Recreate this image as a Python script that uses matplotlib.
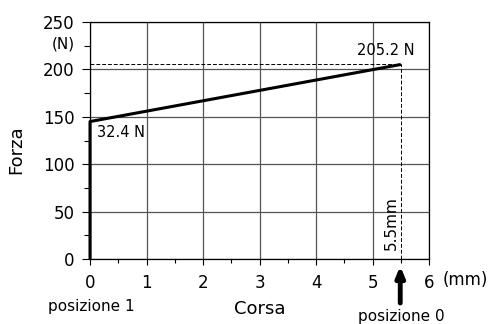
import matplotlib
matplotlib.use('Agg')
import matplotlib.pyplot as plt
from matplotlib.ticker import MultipleLocator

## force vs stroke data
corsa = [0, 0, 5.5]
forza = [0, 145, 205.2]
x_ticks = [0, 1, 2, 3, 4, 5, 6]
y_ticks = [0, 50, 100, 150, 200, 250]

plt.rcParams['font.family'] = ['DejaVu Sans']

fig = plt.figure(figsize=(4.93, 3.24), dpi=100)
ax = fig.add_axes([0.1826, 0.2006, 0.6877, 0.7315])

ax.set_xlim(0, 6)
ax.set_ylim(0, 250)
ax.set_xticks(x_ticks)
ax.set_yticks(y_ticks)
ax.xaxis.set_minor_locator(MultipleLocator(0.5))
ax.yaxis.set_minor_locator(MultipleLocator(25))
ax.tick_params(which='both', direction='out', width=0.8, labelsize=12, color='black')
ax.tick_params(axis='x', which='major', length=4, pad=7)
ax.tick_params(axis='x', which='minor', length=3)
ax.tick_params(axis='y', which='major', length=6, pad=5)
ax.tick_params(axis='y', which='minor', length=4)
ax.grid(True, which='major', color='#555555', linewidth=0.9)
for s in ax.spines.values():
    s.set_linewidth(0.9)

# dashed guides to the end point
ax.plot([0, 5.5], [205.2, 205.2], color='black', linestyle='--', linewidth=0.7, dashes=(4, 2))
ax.plot([5.5, 5.5], [0, 205.2], color='black', linestyle='--', linewidth=0.7, dashes=(4, 2))

ax.plot(corsa, forza, color='black', linewidth=2.2, solid_capstyle='butt', clip_on=False, zorder=5)

ax.text(0.12, 133, '32.4 N', fontsize=10.5, va='center', ha='left')
ax.text(5.23, 219.5, '205.2 N', fontsize=10.5, va='center', ha='center')
ax.text(5.33, 38, '5.5mm', fontsize=11, rotation=90, va='center', ha='center')

ax.text(-0.265, 227, '(N)', fontsize=11, ha='right', va='center')
fig.text(443 / 493, 1 - 280 / 324, '(mm)', fontsize=12, ha='left', va='center')
fig.text(16 / 493, 1 - 150 / 324, 'Forza', fontsize=13, rotation=90, ha='center', va='center')
fig.text(260 / 493, 1 - 309 / 324, 'Corsa', fontsize=13, ha='center', va='center')

ax.annotate('', xy=(5.49, -7.4), xytext=(5.49, -46.4), annotation_clip=False,
            arrowprops=dict(arrowstyle='-|>,head_width=0.25,head_length=0.6', color='black', lw=3.5,
                            shrinkA=0, shrinkB=0))
fig.text(48 / 493, 1 - 306 / 324, 'posizione 1', fontsize=11, ha='left', va='center')
fig.text(401 / 493, 1 - 317 / 324, 'posizione 0', fontsize=11, ha='center', va='center')

plt.savefig('out.png', dpi=100)
